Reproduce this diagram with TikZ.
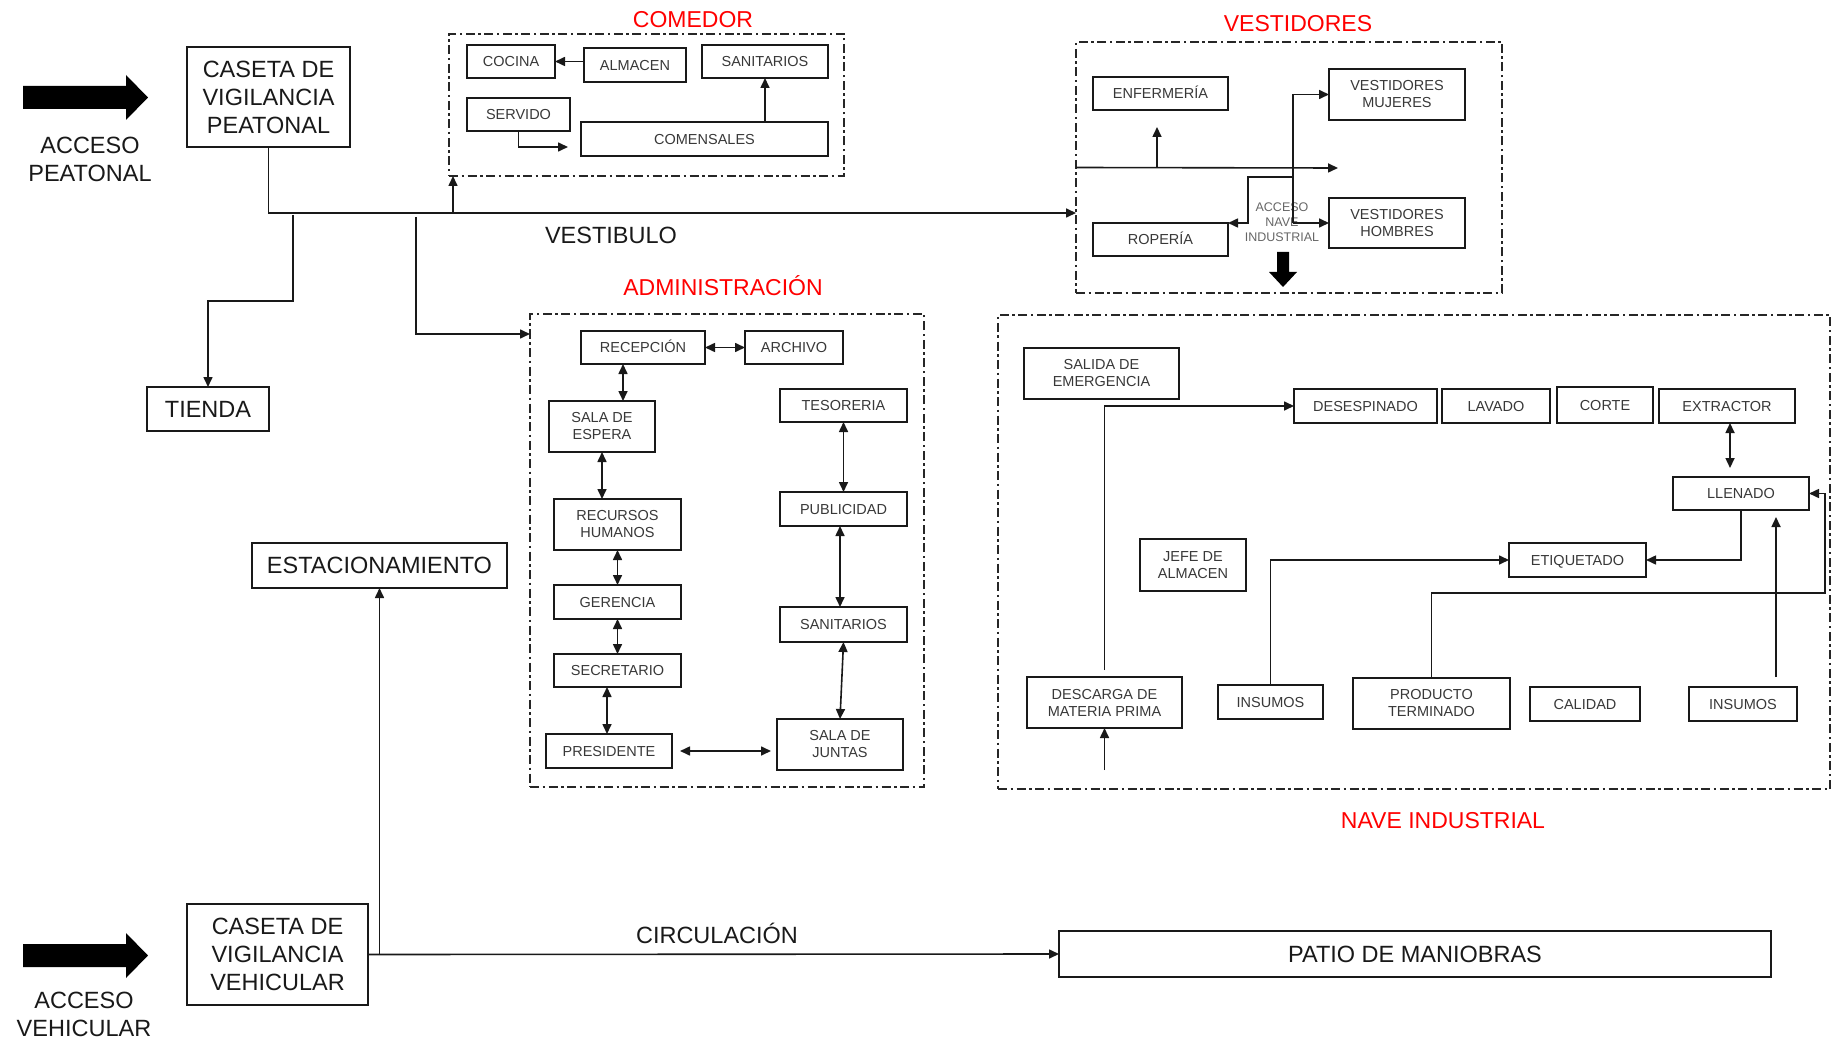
\documentclass[tikz,border=0pt]{standalone}
\usepackage{fontspec}
\setmainfont{Liberation Sans}
\usetikzlibrary{arrows.meta}
\begin{document}
\begin{tikzpicture}[x=1pt,y=-1pt,
  box/.style={draw=black!90, line width=1.6pt, inner sep=0pt, outer sep=0pt, align=center},
  big/.style={box, font=\fontsize{23.5}{28}\selectfont, text=black!90},
  small/.style={box, font=\fontsize{14.5}{17}\selectfont, text=black!78},
  capS/.style={text height=10.4pt, text depth=0pt},
  capB/.style={text height=16.8pt, text depth=0pt},
  zone/.style={draw=black!85, line width=1.3pt, dash pattern=on 9pt off 3.5pt on 2.5pt off 3.5pt, inner sep=0pt, outer sep=0pt},
  arr/.style={draw=black!90, line width=1.6pt, -{Triangle[length=10pt,width=9pt]}},
  darr/.style={draw=black!90, line width=1.6pt, {Triangle[length=10pt,width=9pt]}-{Triangle[length=10pt,width=9pt]}},
  title/.style={text=red, font=\fontsize{23}{27}\selectfont, inner sep=0pt, text height=16.5pt, text depth=0pt},
  caption/.style={text=black!90, font=\fontsize{23.5}{28}\selectfont, inner sep=0pt, align=center},
]
\useasboundingbox (0,0) rectangle (1835,1040);

% ---------- entrances ----------
\fill[black] (23,86) -- (126,86) -- (126,75) -- (148,97.5) -- (126,120) -- (126,109) -- (23,109) -- cycle;
\node[caption] (accP) at (90,159) {ACCESO\\PEATONAL};
\fill[black] (23,944) -- (126,944) -- (126,933) -- (148,955.5) -- (126,978) -- (126,967) -- (23,967) -- cycle;
\node[caption] (accV) at (84,1014) {ACCESO\\VEHICULAR};

\node[big, minimum width=163pt, minimum height=100pt] (casP) at (268.5,97) {CASETA DE\\VIGILANCIA\\PEATONAL};
\node[big, capB, minimum width=122pt, minimum height=44pt] (tienda) at (208,409) {TIENDA};
\node[big, capB, minimum width=255pt, minimum height=45pt] (estac) at (379.5,565.5) {ESTACIONAMIENTO};
\node[big, minimum width=181pt, minimum height=101pt] (casV) at (277.5,954.5) {CASETA DE\\VIGILANCIA\\VEHICULAR};
\node[big, capB, minimum width=712pt, minimum height=46pt] (patio) at (1415,954) {PATIO DE MANIOBRAS};

\node[caption, capB] (vestLbl) at (611,235) {VESTIBULO};
\node[caption, capB] (circLbl) at (717,935) {CIRCULACIÓN};

% ---------- comedor ----------
\node[title] (tCom) at (693,19) {COMEDOR};
\node[zone, minimum width=395pt, minimum height=142pt] (cframe) at (646.5,105) {};
\node[small,capS, minimum width=88pt, minimum height=33pt] (cocina) at (511,61.5) {COCINA};
\node[small,capS, minimum width=102pt, minimum height=34pt] (almacen) at (635,65) {ALMACEN};
\node[small,capS, minimum width=126pt, minimum height=33pt] (sanC) at (765,61.5) {SANITARIOS};
\node[small,capS, minimum width=103pt, minimum height=33pt] (servido) at (518.5,114.5) {SERVIDO};
\node[small,capS, minimum width=247pt, minimum height=34pt] (comens) at (704.5,139) {COMENSALES};

\draw[arr] (almacen.west |- cocina.east) -- (cocina.east);
\coordinate (servEnd) at (568,147);
\draw[arr] (servido.south) |- (servEnd);
\draw[arr] (comens.north -| sanC.south) -- (sanC.south);

% ---------- vestidores ----------
\node[title] (tVes) at (1298,23) {VESTIDORES};
\node[zone, minimum width=426pt, minimum height=251pt] (vframe) at (1289,167.5) {};
\node[small,capS, minimum width=135pt, minimum height=33pt] (enfer) at (1160.5,93.5) {ENFERMERÍA};
\node[small, minimum width=136pt, minimum height=51pt] (vmuj) at (1397,94.5) {VESTIDORES\\MUJERES};
\node[small,capS, minimum width=135pt, minimum height=33pt] (ropa) at (1160.5,239.5) {ROPERÍA};
\node[small, minimum width=136pt, minimum height=50pt] (vhom) at (1397,223) {VESTIDORES\\HOMBRES};
\node[inner sep=0pt, align=center, text=black!60, font=\fontsize{12.5}{15}\selectfont] (accN) at (1282,222) {ACCESO\\NAVE\\INDUSTRIAL};

\coordinate (vmid) at (1338,168);
\draw[arr] (vframe.west) -- (vmid);
\coordinate (eb) at ([xshift=-3.5pt,yshift=-17pt]enfer.south);
\draw[arr] (eb |- vmid) -- (eb);
\coordinate (acc) at ([xshift=-36pt]vhom.west);
\draw[arr] (acc) |- (vmuj.west);
\draw[arr] (acc) -- (vhom.west);
\coordinate (rj) at (1293,177);
\draw[arr] (rj) -| ([xshift=20pt]ropa.north east) -- (ropa.north east);
\fill[black] (1277,252) -- (1289,252) -- (1289,272) -- (1297,272) -- (1283,287) -- (1269,272) -- (1277,272) -- cycle;

% ---------- administracion ----------
\node[title] (tAdm) at (723,287) {ADMINISTRACIÓN};
\node[zone, minimum width=394pt, minimum height=473pt] (aframe) at (727,550.5) {};
\node[small,capS, minimum width=124pt, minimum height=33pt] (recep) at (643,347.5) {RECEPCIÓN};
\node[small,capS, minimum width=98pt, minimum height=33pt] (archivo) at (794,347.5) {ARCHIVO};
\node[small, minimum width=106pt, minimum height=51pt] (espera) at (602,426.5) {SALA DE\\ESPERA};
\node[small, minimum width=127pt, minimum height=51pt] (rrhh) at (617.5,524.5) {RECURSOS\\HUMANOS};
\node[small,capS, minimum width=127pt, minimum height=34pt] (geren) at (617.5,602) {GERENCIA};
\node[small,capS, minimum width=127pt, minimum height=33pt] (secre) at (617.5,670.5) {SECRETARIO};
\node[small,capS, minimum width=126pt, minimum height=34pt] (presi) at (609,751) {PRESIDENTE};
\node[small,capS, minimum width=127pt, minimum height=33pt] (tesor) at (843.5,405.5) {TESORERIA};
\node[small,capS, minimum width=127pt, minimum height=34pt] (publi) at (843.5,509) {PUBLICIDAD};
\node[small,capS, minimum width=127pt, minimum height=35pt] (sanA) at (843.5,624.5) {SANITARIOS};
\node[small, minimum width=126pt, minimum height=51pt] (juntas) at (840,744.5) {SALA DE\\JUNTAS};

\draw[darr] (recep.east) -- (archivo.west);
\draw[darr] ([xshift=-20pt]recep.south) -- ([xshift=21pt]espera.north);
\draw[darr] (espera.south) -- ([xshift=-15.5pt]rrhh.north);
\draw[darr] (rrhh.south) -- (geren.north);
\draw[darr] (geren.south) -- (secre.north);
\draw[darr] ([xshift=-10.5pt]secre.south) -- ([xshift=-2pt]presi.north);
\draw[darr] (tesor.south) -- (publi.north);
\draw[darr] ([xshift=-3.5pt]publi.south) -- ([xshift=-3.5pt]sanA.north);
\draw[darr] (sanA.south) -- (juntas.north);
\draw[darr] ([xshift=8pt]presi.east) -- ([xshift=-6pt,yshift=-6.5pt]juntas.west);

% ---------- nave industrial ----------
\node[title] (tNav) at (1443,820) {NAVE INDUSTRIAL};
\node[zone, minimum width=832pt, minimum height=474pt] (nframe) at (1414,552) {};
\node[small, minimum width=155pt, minimum height=51pt] (salida) at (1101.5,373.5) {SALIDA DE\\EMERGENCIA};
\node[small,capS, minimum width=143pt, minimum height=34pt] (deses) at (1365.5,406) {DESESPINADO};
\node[small,capS, minimum width=108pt, minimum height=34pt] (lavado) at (1496,406) {LAVADO};
\node[small,capS, minimum width=96pt, minimum height=36pt] (corte) at (1605,405) {CORTE};
\node[small,capS, minimum width=136pt, minimum height=34pt] (extractor) at (1727,406) {EXTRACTOR};
\node[small,capS, minimum width=136pt, minimum height=33pt] (llenado) at (1741,493.5) {LLENADO};
\node[small,capS, minimum width=137pt, minimum height=34pt] (etiq) at (1577.5,560) {ETIQUETADO};
\node[small, minimum width=106pt, minimum height=52pt] (jefe) at (1193,565) {JEFE DE\\ALMACEN};
\node[small, minimum width=155pt, minimum height=51pt] (descarga) at (1104.5,702.5) {DESCARGA DE\\MATERIA PRIMA};
\node[small,capS, minimum width=105pt, minimum height=34pt] (ins1) at (1270.5,702) {INSUMOS};
\node[small, minimum width=157pt, minimum height=51pt] (prodt) at (1431.5,703.5) {PRODUCTO\\TERMINADO};
\node[small,capS, minimum width=110pt, minimum height=34pt] (calidad) at (1585,704) {CALIDAD};
\node[small,capS, minimum width=108pt, minimum height=34pt] (ins2) at (1743,704) {INSUMOS};

\draw[arr] ([yshift=7pt]descarga.north) |- (deses.west);
\coordinate (dIn) at (1104.5,770);
\draw[arr] (dIn) -- (descarga.south);
\draw[arr] (ins1.north) |- (etiq.west);
\draw[arr] (llenado.south) |- (etiq.east);
\draw[darr] ([xshift=3pt]extractor.south) -- ([xshift=-11pt,yshift=9pt]llenado.north);
\coordinate (pc) at (1825,593);
\draw[arr] (prodt.north) |- (pc) |- (llenado.east);
\draw[arr] ([xshift=33pt,yshift=10pt]ins2.north) -- ([xshift=35pt,yshift=-7pt]llenado.south);

% ---------- vestibulo and circulacion ----------
\coordinate (vrow) at (0,213);
\draw[arr] (casP.south) |- (vframe.west |- vrow);
\coordinate (cin) at ([xshift=4pt]cframe.south west);
\draw[arr] (cin |- vrow) -- (cin);
\coordinate (tj) at (293,215);
\draw[arr] (tj) -- ++(0,86) -| (tienda.north);
\coordinate (aj) at (416,217);
\coordinate (ain) at ([yshift=-20pt]aframe.north west);
\draw[arr] (aj) |- (ain);

\draw[arr] (casV.east) -- (patio.west);
\coordinate (ej) at (estac.south |- casV.east);
\draw[arr] (ej) -- (estac.south);
\end{tikzpicture}
\end{document}
